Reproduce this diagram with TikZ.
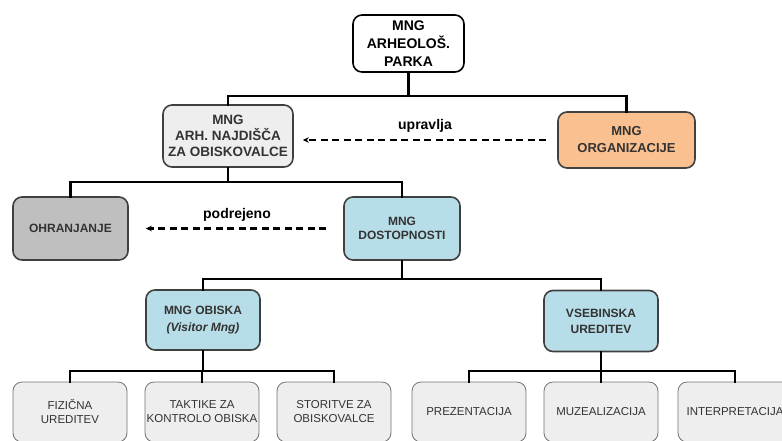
\documentclass[tikz,border=0pt]{standalone}
\usepackage{fontspec}
\setmainfont{Liberation Sans}
\usetikzlibrary{arrows.meta}
\definecolor{boxgray}{HTML}{EEEEEE}
\definecolor{peach}{HTML}{FAC090}
\definecolor{midgray}{HTML}{BFBFBF}
\definecolor{teal}{HTML}{B7DEE8}
\definecolor{txtgray}{HTML}{333333}
\tikzset{
  mainbox/.style={draw=black!75, line width=1.6pt, rounded corners=9pt, align=center,
    font=\fontsize{12}{15}\selectfont\bfseries, text=txtgray, inner sep=1pt},
  leafbox/.style={draw=black!55, line width=0.8pt, rounded corners=9pt, align=center,
    fill=boxgray, font=\fontsize{11.5}{14}\selectfont, text=black!80,
    minimum width=114pt, minimum height=60pt, inner sep=0pt},
  conn/.style={line width=2.6pt, black, line cap=rect},
  dasharrow/.style={line width=2.2pt, dash pattern=on 7pt off 4.5pt, -{Stealth[length=6pt,width=5.5pt]}},
  lbl/.style={font=\fontsize{14}{16}\selectfont\bfseries, text=black}
}
\begin{document}
\begin{tikzpicture}[x=1pt,y=-1pt]
\useasboundingbox (0,0) rectangle (782,440);
\fill[white] (0,0) rectangle (782,440);
% level 0
\node[mainbox, fill=white, draw=black, minimum width=111pt, minimum height=57pt,
  font=\fontsize{14}{18}\selectfont\bfseries, text=black] (top) at (408.5,43.5) {MNG\\ARHEOLOŠ.\\PARKA};
% level 1
\node[mainbox, fill=boxgray, minimum width=130pt, minimum height=62pt,
  font=\fontsize{13.5}{16}\selectfont\bfseries] (arh) at (228,136) {MNG\\ARH. NAJDIŠČA\\ZA OBISKOVALCE};
\node[mainbox, fill=peach, minimum width=137pt, minimum height=56pt,
  font=\fontsize{13}{17}\selectfont\bfseries] (org) at (626.5,140) {MNG\\ORGANIZACIJE};
% level 2
\node[mainbox, fill=midgray, minimum width=115pt, minimum height=63pt,
  font=\fontsize{12}{14}\selectfont\bfseries] (ohr) at (70.5,228.5) {OHRANJANJE};
\node[mainbox, fill=teal, minimum width=116pt, minimum height=63pt,
  font=\fontsize{12}{14.5}\selectfont\bfseries] (dost) at (402,228.5) {MNG\\DOSTOPNOSTI};
% level 3
\node[mainbox, fill=teal, minimum width=114pt, minimum height=60pt,
  font=\fontsize{12}{17}\selectfont\bfseries] (obi) at (203,320) {MNG OBISKA\\\textit{(Visitor Mng)}};
\node[mainbox, fill=teal, minimum width=114pt, minimum height=61pt,
  font=\fontsize{12}{16}\selectfont\bfseries] (vse) at (601,321) {VSEBINSKA\\UREDITEV};
% level 4
\node[leafbox] (fiz) at (70,412) {FIZIČNA\\UREDITEV};
\node[leafbox] (tak) at (202,412) {TAKTIKE ZA\\KONTROLO OBISKA};
\node[leafbox] (sto) at (334,412) {STORITVE ZA\\OBISKOVALCE};
\node[leafbox] (pre) at (469,412) {PREZENTACIJA};
\node[leafbox] (muz) at (601,412) {MUZEALIZACIJA};
\node[leafbox] (int) at (735,412) {INTERPRETACIJA};
% junctions
\coordinate (j1) at (408.5,96);
\coordinate (j2) at (228,182);
\coordinate (j3) at (402,279);
\coordinate (j4) at (203,371);
\coordinate (j5) at (601,371);
% connectors
\draw[conn] (top.south) -- (j1);
\draw[conn] (arh.north) |- (j1) -| (org.north);
\draw[conn] (arh.south) -- (j2);
\draw[conn] (ohr.north) |- (j2) -| (dost.north);
\draw[conn] (dost.south) -- (j3);
\draw[conn] (obi.north) |- (j3) -| (vse.north);
\draw[conn] (obi.south) -- (j4);
\draw[conn] (fiz.north) |- (j4) -| (sto.north);
\draw[conn] (tak.north) -- (tak.north |- j4);
\draw[conn] (vse.south) -- (j5);
\draw[conn] (pre.north) |- (j5) -| (int.north);
\draw[conn] (muz.north) -- (muz.north |- j5);
% dashed arrows
\coordinate (a1s) at ([xshift=-11pt]org.west);
\coordinate (a1e) at ([xshift=9pt]arh.east |- org.west);
\draw[dasharrow] (a1s) -- (a1e);
\node[lbl] (l1) at (425,126) {upravlja};
\coordinate (a2s) at ([xshift=-17pt]dost.west);
\coordinate (a2e) at ([xshift=17pt]ohr.east);
\draw[dasharrow] (a2s) -- (a2e);
\node[lbl] (l2) at (237,215) {podrejeno};
\end{tikzpicture}
\end{document}
